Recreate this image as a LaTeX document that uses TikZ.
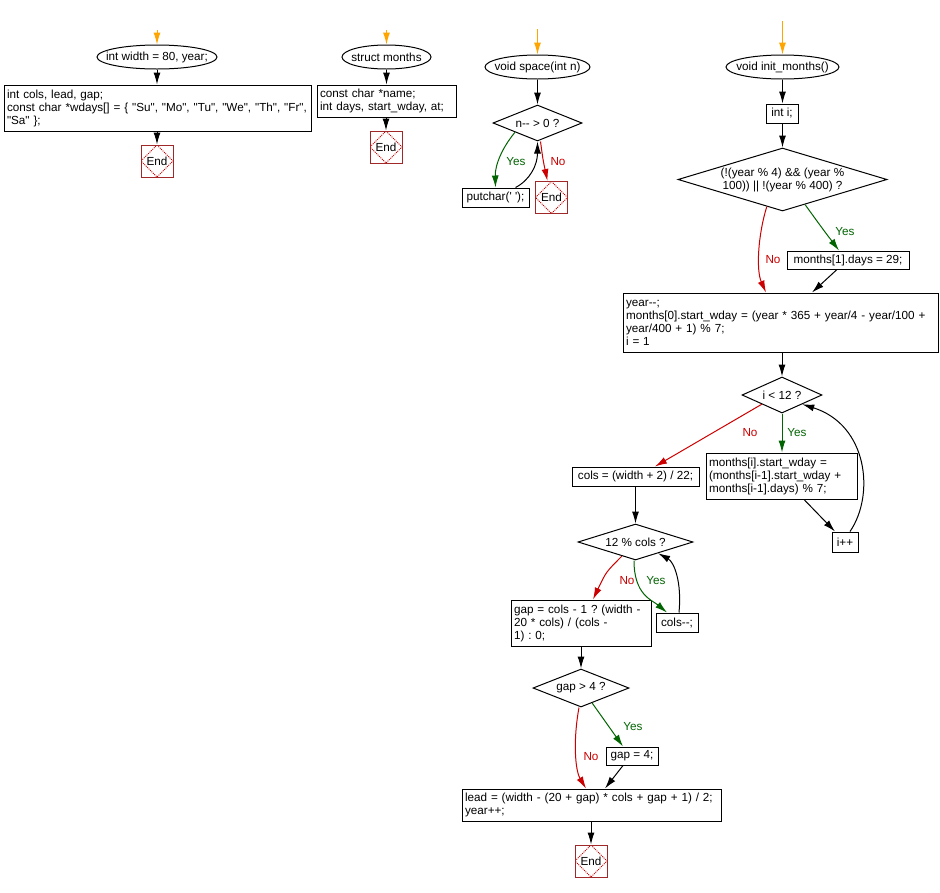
\documentclass[tikz,border=0pt]{standalone}
\usepackage{fontspec}
\setmainfont{Liberation Sans}[Ligatures=TeXOff]
\usetikzlibrary{arrows.meta,shapes.geometric,calc}
\definecolor{startorange}{RGB}{255,165,0}
\definecolor{yesgreen}{RGB}{0,100,0}
\definecolor{nored}{RGB}{204,0,0}
\definecolor{endbrown}{RGB}{160,40,40}
\definecolor{enddot}{RGB}{204,0,0}
\frenchspacing
\begin{document}
\begin{tikzpicture}[x=1pt,y=-1pt,
  every node/.style={font=\fontsize{11.7}{13}\selectfont\frenchspacing, inner sep=0pt},
  line width=1pt,
  >={Latex[length=12pt,width=7pt]},
  conn/.style={->, draw=black},
  yesarr/.style={->, draw=yesgreen},
  noarr/.style={->, draw=nored},
  startarr/.style={->, draw=startorange},
  term/.style={ellipse, draw, fill=white},
  pbox/.style={rectangle, draw, fill=white, align=left, inner xsep=3pt},
  sbox/.style={rectangle, draw, fill=white, align=center},
  dec/.style={diamond, draw, fill=white},
  endnode/.style={rectangle, draw=endbrown, fill=white, minimum width=32pt, minimum height=32pt,
    path picture={\draw[enddot, line width=0.8pt, dash pattern=on 1pt off 1pt]
      (path picture bounding box.north) -- (path picture bounding box.east) --
      (path picture bounding box.south) -- (path picture bounding box.west) -- cycle;}},
  yeslab/.style={text=yesgreen},
  nolab/.style={text=nored}
]
\useasboundingbox[fill=white] (0,0) rectangle (940,892);

% ---------- column 1
\coordinate (s1) at (157,30);
\node[term, minimum width=120pt, minimum height=24pt, label=center:{int width = 80, year;}] (e1) at (157,57) {};
\node[pbox, text width=301pt, minimum height=46pt] (b1) at (157.5,108)
  {\mbox{int cols, lead, gap;}\\\mbox{const char *wdays[] = \{ "Su", "Mo", "Tu", "We", "Th", "Fr",}\\\mbox{"Sa" \};}};
\node[endnode] (end1) at (157,161) {End};
\draw[startarr] (s1) -- (e1.north);
\draw[conn] (e1.south) -- (e1.south |- b1.north);
\draw[conn] (end1 |- b1.south) -- (end1.north);

% ---------- column 2
\coordinate (s2) at (386.5,30);
\node[term, minimum width=89pt, minimum height=24pt, label=center:{struct months}] (e2) at (386.5,57) {};
\node[pbox, text width=133pt, minimum height=32pt] (b2) at (386.5,101)
  {\mbox{const char *name;}\\\mbox{int days, start\_wday, at;}};
\node[endnode] (end2) at (386,147) {End};
\draw[startarr] (s2) -- (e2.north);
\draw[conn] (e2.south) -- (e2.south |- b2.north);
\draw[conn] (end2 |- b2.south) -- (end2.north);

% ---------- column 3
\coordinate (s3) at (537.5,29);
\node[term, minimum width=105pt, minimum height=24pt, label=center:{void space(int n)}] (e3) at (537.5,67) {};
\node[dec, minimum width=89pt, minimum height=36pt, label=center:{n-- > 0 ?}] (d3) at (537.5,123) {};
\node[sbox, minimum width=67pt, minimum height=19pt] (pc) at (495.5,197.5) {putchar(' ');};
\node[endnode] (end3) at (551.5,197.5) {End};
\draw[startarr] (s3) -- (e3.north);
\draw[conn] (e3.south) -- (d3.north);
\draw[yesarr] ($(d3.west)!0.5!(d3.south)$) .. controls (502,148) and (495,165) .. (pc.north);
\draw[conn] ([xshift=20pt]pc.north) .. controls (530,180) and (537.5,165) .. (d3.south);
\draw[noarr] ([xshift=3pt]d3.south) .. controls (543,160) .. ([xshift=-4pt]end3.north);
\node[yeslab] (ly3) at (516,162) {Yes};
\node[nolab] (ln3) at (558,162) {No};

% ---------- column 4
\coordinate (s4) at (782.5,21);
\node[term, minimum width=113pt, minimum height=24pt, label=center:{void init\_months()}] (e4) at (782.5,67) {};
\node[sbox, minimum width=32pt, minimum height=19pt] (inti) at (782,113.5) {int i;};
\node[dec, minimum width=209pt, minimum height=63pt,
  label={[align=center]center:{(!(year \% 4) \&\& (year \%\\100)) || !(year \% 400) ?}}] (d4) at (782.5,179.5) {};
\node[sbox, minimum width=122pt, minimum height=18pt] (m1) at (848,260) {months[1].days = 29;};
\node[pbox, text width=309pt, minimum height=59pt] (big) at (780.5,322.5)
  {\mbox{year--;}\\\mbox{months[0].start\_wday = (year * 365 + year/4 - year/100 +}\\\mbox{year/400 + 1) \% 7;}\\\mbox{i = 1}};
\node[dec, minimum width=80pt, minimum height=36pt, label=center:{i < 12 ?}] (d5) at (782,395) {};
\node[pbox, text width=145pt, minimum height=46pt] (mi) at (781.5,476)
  {\mbox{months[i].start\_wday =}\\\mbox{(months[i-1].start\_wday +}\\\mbox{months[i-1].days) \% 7;}};
\node[sbox, minimum width=127pt, minimum height=19pt] (cols) at (635.5,476.5) {cols = (width + 2) / 22;};
\node[sbox, minimum width=26pt, minimum height=20pt] (ipp) at (845,542) {i++};
\node[dec, minimum width=115pt, minimum height=36pt, label=center:{12 \% cols ?}] (d6) at (635.5,542) {};
\node[sbox, minimum width=42pt, minimum height=19pt] (cmm) at (677,622.5) {cols--;};
\node[pbox, text width=134pt, minimum height=46pt] (gap) at (581,623)
  {\mbox{gap = cols - 1 ? (width -}\\\mbox{20 * cols) / (cols -}\\\mbox{1) : 0;}};
\node[dec, minimum width=96pt, minimum height=38pt, label=center:{gap > 4 ?}] (d7) at (581,688) {};
\node[sbox, minimum width=52pt, minimum height=18pt] (g4) at (632,756) {gap = 4;};
\node[pbox, text width=253pt, minimum height=32pt] (lead) at (591.5,805)
  {\mbox{lead = (width - (20 + gap) * cols + gap + 1) / 2;}\\\mbox{year++;}};
\node[endnode] (end7) at (591,861) {End};

\draw[startarr] (s4) -- (e4.north);
\draw[conn] (e4.south) -- (e4.south |- inti.north);
\draw[conn] (e4.south |- inti.south) -- (d4.north);
\draw[yesarr] ($(d4.south)!0.215!(d4.east)$) .. controls (822,228) .. ([xshift=-9pt]m1.north);
\draw[noarr] ($(d4.south)!0.15!(d4.west)$) .. controls (758,235) and (756,270) .. ([xshift=-14.5pt]big.north);
\draw[conn] ([xshift=-11pt]m1.south) -- ([xshift=31.5pt]big.north);
\node[yeslab] (ly4) at (845,232) {Yes};
\node[nolab] (ln4) at (773,260) {No};

\draw[conn] (d5 |- big.south) -- (d5.north);
\draw[yesarr] (d5.south) -- (d5.south |- mi.north);
\draw[noarr] ($(d5.west)!0.5!(d5.south)$) -- ([xshift=19.5pt]cols.north);
\node[yeslab] (ly5) at (797,433) {Yes};
\node[nolab] (ln5) at (750,433) {No};
\draw[conn] ([xshift=22.5pt]mi.south) -- ([xshift=-10pt]ipp.north);
\draw[conn] ([xshift=5pt]ipp.north) .. controls (875,495) and (868,425) .. ($(d5.east)!0.5!(d5.south)$);

\draw[conn] (cols.south) -- (d6.north);
\draw[noarr] ($(d6.south)!0.235!(d6.west)$) .. controls (606,572) .. ([xshift=12pt]gap.north);
\draw[yesarr] ([xshift=-1.5pt]d6.south) .. controls (634,595) and (652,600) .. ([xshift=-10pt]cmm.north);
\draw[conn] ([xshift=2pt]cmm.north) .. controls (682,582) and (674,562) .. ($(d6.south)!0.39!(d6.east)$);
\node[nolab] (ln6) at (627,581) {No};
\node[yeslab] (ly6) at (656,581) {Yes};

\draw[conn] (gap.south) -- (d7.north);
\draw[yesarr] ($(d7.south)!0.23!(d7.east)$) -- ([xshift=-9pt]g4.north);
\draw[noarr] ([xshift=-2pt]d7.south) .. controls (573,740) and (575,770) .. ([xshift=-5.5pt]lead.north);
\draw[conn] ([xshift=-9pt]g4.south) -- ([xshift=13.5pt]lead.north);
\node[yeslab] (ly7) at (633,727) {Yes};
\node[nolab] (ln7) at (591,757) {No};
\draw[conn] (end7 |- lead.south) -- (end7.north);
\end{tikzpicture}
\end{document}
